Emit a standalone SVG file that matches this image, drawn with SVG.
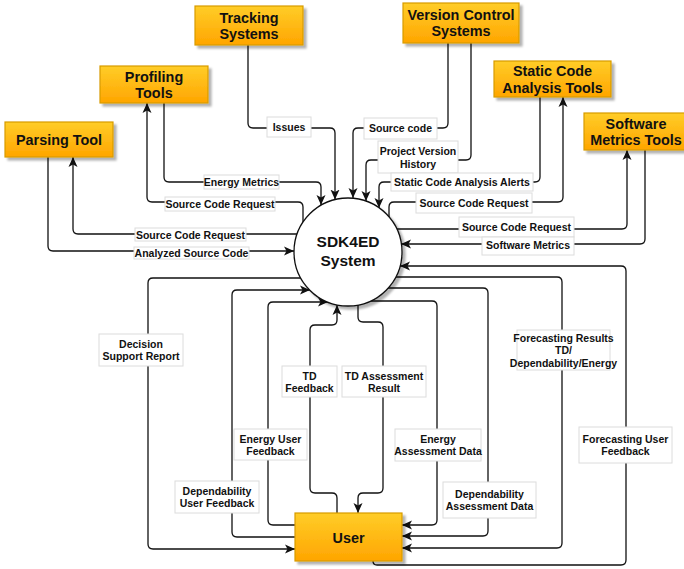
<svg xmlns="http://www.w3.org/2000/svg" width="684" height="569" viewBox="0 0 684 569">
<defs>
<linearGradient id="og" x1="0" y1="0" x2="0" y2="1">
<stop offset="0" stop-color="#FFCD28"/>
<stop offset="1" stop-color="#FFA500"/>
</linearGradient>
<filter id="sh" x="-10%" y="-10%" width="130%" height="140%">
<feDropShadow dx="3" dy="3" stdDeviation="0.8" flood-color="#000" flood-opacity="0.3"/>
</filter>
<marker id="ar" markerUnits="userSpaceOnUse" markerWidth="11" markerHeight="10" refX="10" refY="5" orient="auto">
<path d="M0,0.5 L10,5 L0,9.5 L2.5,5 Z" fill="#111"/>
</marker>
<style>
.box rect{fill:url(#og);stroke:#D79B00;stroke-width:1.2;filter:url(#sh)}
.box text{font-family:"Liberation Sans",Arial,sans-serif;font-weight:bold;font-size:14.4px;text-anchor:middle;fill:#111}
.sys circle{fill:#fff;stroke:#111;stroke-width:1.3;filter:url(#sh)}
.sys text{font-family:"Liberation Sans",Arial,sans-serif;font-weight:bold;font-size:15.5px;text-anchor:middle;fill:#111}
.edge path{fill:none;stroke:#111;stroke-width:1.3;marker-end:url(#ar)}
.edge rect{fill:#fff;stroke:#dcdcdc;stroke-width:1}
.edge text{font-family:"Liberation Sans",Arial,sans-serif;font-weight:bold;font-size:10.5px;text-anchor:middle;fill:#111}
</style>
</defs>
<rect width="684" height="569" fill="#fff"/>

<g id="connectors">
<g class="edge" id="e-issues">
<path d="M248,45 V123 Q248,128 253,128 H330 Q335,128 335,133 V199.6"/>
<rect x="267" y="117" width="44" height="20"/>
<text x="289" y="131">Issues</text>
</g>
<g class="edge" id="e-energy-metrics">
<path d="M164,103 V177 Q164,182 169,182 H316 Q321,182 321,187 V205"/>
<rect x="204" y="175" width="75" height="14"/>
<text x="241.5" y="186">Energy Metrics</text>
</g>
<g class="edge" id="e-scr-profiling">
<path d="M303,222 V207 Q303,202 298,202 H152 Q147,202 147,197 V103"/>
<rect x="165" y="197" width="110" height="14"/>
<text x="220" y="208">Source Code Request</text>
</g>
<g class="edge" id="e-scr-parsing">
<path d="M297,234 H78 Q73,234 73,229 V157"/>
<rect x="135" y="228" width="111" height="13"/>
<text x="190.5" y="238.5">Source Code Request</text>
</g>
<g class="edge" id="e-analyzed">
<path d="M48,157 V246 Q48,251 53,251 H294"/>
<rect x="134" y="247" width="115" height="12"/>
<text x="191.5" y="257">Analyzed Source Code</text>
</g>
<g class="edge" id="e-source-code">
<path d="M448,43 V123 Q448,128 443,128 H358 Q353,128 353,133 V198"/>
<rect x="364" y="118" width="73" height="21"/>
<text x="400.5" y="132">Source code</text>
</g>
<g class="edge" id="e-pvh">
<path d="M471,43 V155 Q471,160 466,160 H371 Q366,160 366,165 V201"/>
<rect x="378" y="141" width="80" height="32"/>
<text x="418" y="155">Project Version</text>
<text x="418" y="167.5">History</text>
</g>
<g class="edge" id="e-scaa">
<path d="M540,97 V177 Q540,182 535,182 H384 Q379,182 379,187 V208"/>
<rect x="391" y="173" width="142" height="18"/>
<text x="462" y="186">Static Code Analysis Alerts</text>
</g>
<g class="edge" id="e-scr-static">
<path d="M389,217 V207 Q389,202 394,202 H558 Q563,202 563,197 V97"/>
<rect x="416" y="193" width="116" height="20"/>
<text x="474" y="207">Source Code Request</text>
</g>
<g class="edge" id="e-scr-software">
<path d="M397,229 H622 Q627,229 627,224 V150"/>
<rect x="459" y="217" width="115" height="20"/>
<text x="516.5" y="231">Source Code Request</text>
</g>
<g class="edge" id="e-software-metrics">
<path d="M645,150 V239 Q645,244 640,244 H401"/>
<rect x="482" y="237" width="92" height="18"/>
<text x="528" y="248.5">Software Metrics</text>
</g>
<g class="edge" id="e-fuf">
<path d="M373,561 Q373,565 377,565 H621 Q626,565 626,560 V271 Q626,266 621,266 H400"/>
<rect x="579" y="427" width="93" height="36"/>
<text x="625.5" y="442.5">Forecasting User</text>
<text x="625.5" y="455">Feedback</text>
</g>
<g class="edge" id="e-fr">
<path d="M396,277 H557 Q562,277 562,282 V543 Q562,548 557,548 H402"/>
<rect x="517" y="330" width="93" height="40"/>
<text x="563.5" y="341.5">Forecasting Results</text>
<text x="563.5" y="354">TD/</text>
<text x="563.5" y="366.5">Dependability/Energy</text>
</g>
<g class="edge" id="e-dad">
<path d="M388,288 H483 Q488,288 488,293 V531 Q488,536 483,536 H402"/>
<rect x="443" y="482" width="93" height="36"/>
<text x="489.5" y="497.5">Dependability</text>
<text x="489.5" y="510">Assessment Data</text>
</g>
<g class="edge" id="e-ead">
<path d="M371,301 H432 Q437,301 437,306 V520 Q437,525 432,525 H402"/>
<rect x="395" y="429" width="86" height="32"/>
<text x="438" y="442.5">Energy</text>
<text x="438" y="455">Assessment Data</text>
</g>
<g class="edge" id="e-tdar">
<path d="M358,305 V317 Q358,322 363,322 H378 Q383,322 383,327 V488 Q383,493 378,493 H363 Q358,493 358,498 V513"/>
<rect x="342" y="366" width="84" height="31"/>
<text x="384" y="379.5">TD Assessment</text>
<text x="384" y="392">Result</text>
</g>
<g class="edge" id="e-tdfb">
<path d="M337,513 V498 Q337,493 332,493 H315 Q310,493 310,488 V330 Q310,325 315,325 H332 Q337,325 337,320 V305"/>
<rect x="282" y="366" width="55" height="31"/>
<text x="309.5" y="379.5">TD</text>
<text x="309.5" y="392">Feedback</text>
</g>
<g class="edge" id="e-euf">
<path d="M295,525 H273 Q268,525 268,520 V307 Q268,302 273,302 H328"/>
<rect x="234" y="429" width="73" height="31"/>
<text x="270.5" y="442.5">Energy User</text>
<text x="270.5" y="455">Feedback</text>
</g>
<g class="edge" id="e-duf">
<path d="M295,537 H237 Q232,537 232,532 V295 Q232,290 237,290 H310"/>
<rect x="175" y="481" width="84" height="32"/>
<text x="217" y="494.5">Dependability</text>
<text x="217" y="507">User Feedback</text>
</g>
<g class="edge" id="e-dsr">
<path d="M301,278 H153 Q148,278 148,283 V544 Q148,549 153,549 H295"/>
<rect x="99" y="334" width="84" height="32"/>
<text x="141" y="347.5">Decision</text>
<text x="141" y="360">Support Report</text>
</g>
</g>

<g id="tracking" class="box">
<rect x="195" y="6" width="108" height="39"/>
<text x="249" y="22.5">Tracking</text>
<text x="249" y="39">Systems</text>
</g>
<g id="profiling" class="box">
<rect x="100" y="66" width="108" height="37"/>
<text x="154" y="81.5">Profiling</text>
<text x="154" y="98">Tools</text>
</g>
<g id="parsing" class="box">
<rect x="5" y="122" width="108" height="35"/>
<text x="59" y="145">Parsing Tool</text>
</g>
<g id="vcs" class="box">
<rect x="403" y="3" width="116" height="40"/>
<text x="461" y="19.5">Version Control</text>
<text x="461" y="36">Systems</text>
</g>
<g id="static" class="box">
<rect x="494" y="61" width="117" height="36"/>
<text x="552.5" y="76">Static Code</text>
<text x="552.5" y="92.5">Analysis Tools</text>
</g>
<g id="software" class="box">
<rect x="584" y="113" width="104" height="37"/>
<text x="636" y="128.5">Software</text>
<text x="636" y="145">Metrics Tools</text>
</g>
<g id="user" class="box">
<rect x="295" y="513" width="107" height="48"/>
<text x="348.5" y="542.5">User</text>
</g>
<g id="sdk4ed" class="sys">
<circle cx="348" cy="252" r="54"/>
<text x="348" y="247">SDK4ED</text>
<text x="348" y="266">System</text>
</g>
</svg>
